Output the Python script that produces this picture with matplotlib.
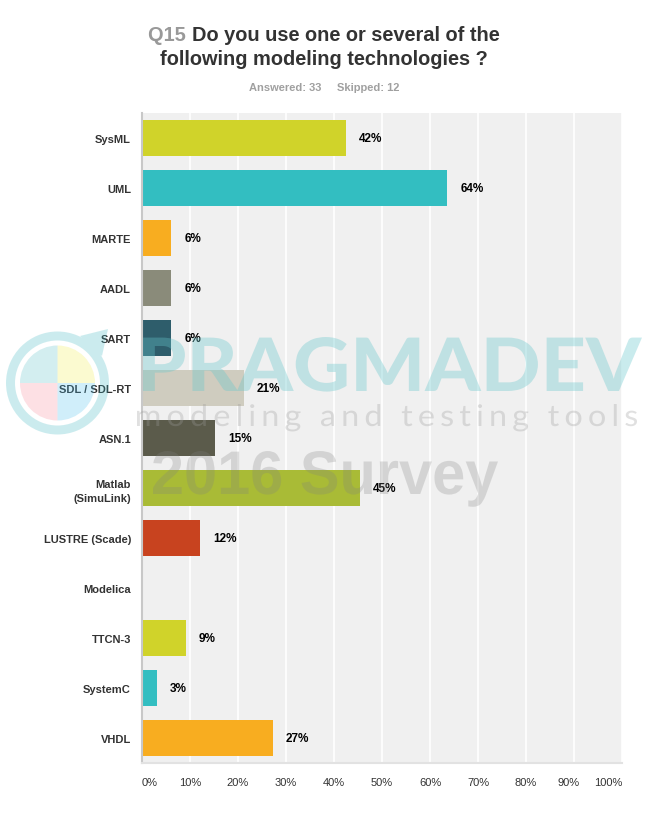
import matplotlib
matplotlib.use("Agg")
import matplotlib.pyplot as plt
from matplotlib.patches import PathPatch, Wedge
from matplotlib.path import Path
from matplotlib.textpath import TextPath, TextToPath
from matplotlib.font_manager import FontProperties
from matplotlib.transforms import Affine2D, ScaledTranslation

# Survey data (Q15, answered 33, skipped 12)
categories = ['SysML', 'UML', 'MARTE', 'AADL', 'SART', 'SDL / SDL-RT', 'ASN.1',
              'Matlab\n(SimuLink)', 'LUSTRE (Scade)', 'Modelica', 'TTCN-3',
              'SystemC', 'VHDL']
percent = [42.42, 63.64, 6.06, 6.06, 6.06, 21.21, 15.15, 45.45, 12.12, 0.0,
           9.09, 3.03, 27.27]
bar_colors = ['#d0d32a', '#33bec1', '#f8ad20', '#8a8b7a', '#2e5d6b', '#cfccbf',
              '#5b5b4b', '#a9bb36', '#c8431f', '#d0d32a', '#d0d32a', '#33bec1',
              '#f8ad20']
xticks = [0, 10, 20, 30, 40, 50, 60, 70, 80, 90, 100]

W, H = 650, 837
fig = plt.figure(figsize=(W / 100, H / 100), dpi=100)
fig.patch.set_facecolor('white')

# pixel frame (y from top) -> figure
px = Affine2D().scale(1 / W, -1 / H).translate(0, 1) + fig.transFigure

# Main bar chart
ax = fig.add_axes([142 / W, (H - 764) / H, 480 / W, 650 / H])
ax.set_facecolor('#f0f0f0')
ypos = list(range(len(categories)))
ax.barh(ypos, percent, height=0.72, color=bar_colors, zorder=2)
ax.set_xlim(0, 100)
ax.set_ylim(len(categories) - 0.5, -0.5)
ax.set_xticks(xticks)
ax.set_xticklabels([f'{t}%' for t in xticks], fontsize=8, color='#333333',
                   family='Liberation Sans')
ax.set_yticks(ypos)
ax.set_yticklabels(categories, fontsize=8, fontweight='bold', color='#333333',
                   family='Liberation Sans', linespacing=1.45)
ax.tick_params(axis='both', length=0)
ax.tick_params(axis='x', pad=10)
ax.tick_params(axis='y', pad=8)
ax.xaxis.grid(True, color='white', linewidth=1.2, zorder=1)
ax.set_axisbelow(True)
for s in ['top', 'right']:
    ax.spines[s].set_visible(False)
ax.spines['left'].set_color('#c8c8c8')
ax.spines['left'].set_linewidth(1.5)
ax.spines['bottom'].set_color('#e2e2e2')
ax.spines['bottom'].set_linewidth(1.5)

labs = ax.get_xticklabels()
labs[0].set_ha('left')
labs[-1].set_ha('right')
labs[-2].set_transform(labs[-2].get_transform() +
                       ScaledTranslation(-5 / 100, 0, fig.dpi_scale_trans))

for y, v in zip(ypos, percent):
    if v > 0:
        ax.annotate(f'{round(v)}%', (v, y), xytext=(9.5, 0), textcoords='offset points',
                    va='center', ha='left', fontsize=8.5, fontweight='bold',
                    color='black', family='Liberation Sans', zorder=3)

# Title
title_kw = dict(fontsize=14.4, fontweight='bold', family='Liberation Sans')
t1 = fig.text(0, 0, 'Q15 ', color='#999999', **title_kw)
t2 = fig.text(0, 0, 'Do you use one or several of the', color='#333333', **title_kw)
r = fig.canvas.get_renderer()
w1 = t1.get_window_extent(r).width
w2 = t2.get_window_extent(r).width
x_start = 324 - (w1 + w2) / 2
t1.set_position((x_start / W, 1 - 41 / H))
t1.set_va('baseline')
t2.set_position(((x_start + w1) / W, 1 - 41 / H))
t2.set_va('baseline')
fig.text(324 / W, 1 - 65 / H, 'following modeling technologies ?', color='#333333',
         ha='center', va='baseline', **title_kw)
fig.text(324 / W, 1 - 91 / H, 'Answered: 33     Skipped: 12', color='#a0a0a0',
         ha='center', va='baseline', fontsize=8, fontweight='bold',
         family='Liberation Sans')


# Watermark
def text_path(s, prop, track=0.0):
    parts = []
    x = 0.0
    ttp = TextToPath()
    for ch in s:
        if ch != ' ':
            parts.append(TextPath((x, 0), ch, size=100, prop=prop))
        w, _, _ = ttp.get_text_width_height_descent(ch, prop, ismath=False)
        x += w + track
    return Path.make_compound_path(*parts)


def fit_text(s, prop, x0, x1, top, baseline, color, alpha, track=0.0):
    p = text_path(s, prop, track)
    ext = p.get_extents()
    sx = (x1 - x0) / ext.width
    sy = (baseline - top) / ext.y1
    tr = Affine2D().translate(-ext.x0, 0).scale(sx, -sy).translate(x0, baseline) + px
    fig.add_artist(PathPatch(p, transform=tr, facecolor=color, edgecolor='none',
                             alpha=alpha, zorder=5))


big = FontProperties(family='Lato', weight='black', size=100)
thin = FontProperties(family='Lato', weight='normal', size=100)
bold = FontProperties(family='Liberation Sans', weight='bold', size=100)
fit_text('PRAGMADEV', big, 143, 642, 338, 392, (0.4, 0.78, 0.8), 0.35)
fit_text('modeling and testing tools', thin, 137, 637, 405, 427, '#9a9a9a', 0.3, track=16)
fit_text('2016 Survey', bold, 153, 498, 452, 495, (0.5, 0.5, 0.5), 0.25)

# Logo
cx, cy = 57.5, 384
ring = Wedge((cx, cy), 51.5, 0, 360, width=9).get_path()
tri = Path([(80, 337), (108, 330), (102, 357), (80, 337)],
           [Path.MOVETO, Path.LINETO, Path.LINETO, Path.CLOSEPOLY])
fig.add_artist(PathPatch(Path.make_compound_path(ring, tri), transform=px,
                         facecolor=(0.2, 0.7, 0.75), edgecolor='none',
                         alpha=0.25, zorder=5))
quads = [(0, 90, (240, 236, 68)), (90, 180, (80, 188, 196)),
         (180, 270, (248, 132, 148)), (270, 360, (68, 188, 236))]
for a0, a1, c in quads:
    # pixel frame is flipped, so angles go clockwise on screen
    fig.add_artist(Wedge((cx, cy), 37.5, -a1, -a0, transform=px,
                         facecolor=tuple(v / 255 for v in c), edgecolor='none',
                         alpha=0.25, zorder=5))

fig.savefig('out.png', dpi=100)
